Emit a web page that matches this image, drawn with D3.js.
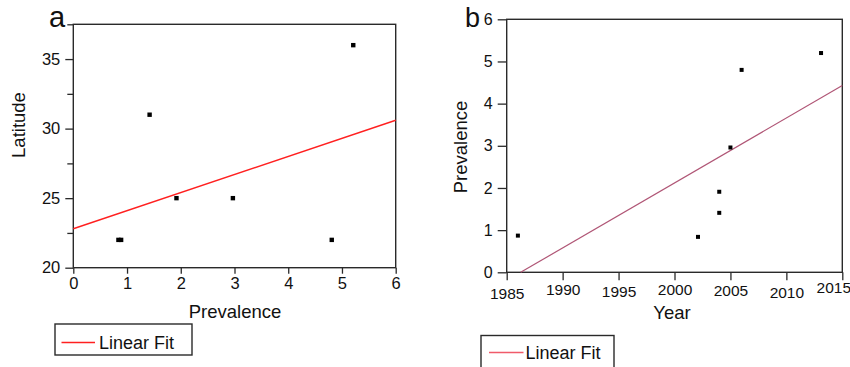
<!DOCTYPE html>
<html><head><meta charset="utf-8">
<script src="https://cdn.jsdelivr.net/npm/d3@7"></script>
<style>
html,body{margin:0;padding:0;background:#fff;}
svg{display:block;font-family:"Liberation Sans",Arial,Helvetica,sans-serif;}
</style></head>
<body>
<svg id="c" width="850" height="367"></svg>
<script>
// ---- Panel a data ----
const prevalenceA = [0.84, 0.89, 1.42, 1.92, 2.97, 4.81, 5.21];
const latitudeA   = [22, 22, 31, 25, 25, 22, 36];
const fitAX = [0, 6];
const fitAY = [22.8, 30.6];
const xTicksA = [0, 1, 2, 3, 4, 5, 6];
const yTicksA = [20, 25, 30, 35];
const yMinorA = [22.5, 27.5, 32.5, 37.5];

// ---- Panel b data ----
const yearB       = [1986.0, 2002.1, 2004.0, 2004.0, 2005.0, 2006.0, 2013.1];
const prevalenceB = [0.87, 0.84, 1.91, 1.41, 2.96, 4.80, 5.20];
const fitBX = [1986.25, 2015];
const fitBY = [0, 4.43];
const xTicksB = [1985, 1990, 1995, 2000, 2005, 2010, 2015];
const yTicksB = [0, 1, 2, 3, 4, 5, 6];

const svg = d3.select("#c");
const axisCol = "#2a2a2a";

function styleAxis(g, fs){
  g.selectAll("path.domain").remove();
  g.selectAll(".tick line").attr("stroke", axisCol).attr("stroke-width", 1.3);
  g.selectAll(".tick text").attr("fill", "#111").style("font-size", fs + "px")
   .style("font-family", '"Liberation Sans",Arial,sans-serif');
}

// ================= Panel a =================
const xA = d3.scaleLinear().domain([0, 6]).range([73.3, 395.7]);
const yA = d3.scaleLinear().domain([20, 37.5]).range([267.7, 24.3]);
const gA = svg.append("g");

gA.append("g").attr("transform", `translate(0,${yA(20)})`)
  .call(d3.axisBottom(xA).tickValues(xTicksA).tickFormat(d3.format("d")).tickSize(6).tickPadding(4))
  .call(g => styleAxis(g, 16.5));
gA.append("g").attr("transform", `translate(${xA(0)},0)`)
  .call(d3.axisLeft(yA).tickValues(yTicksA).tickFormat(d3.format("d")).tickSize(8).tickPadding(5))
  .call(g => styleAxis(g, 16.5));
gA.append("g").attr("transform", `translate(${xA(0)},0)`)
  .call(d3.axisLeft(yA).tickValues(yMinorA).tickFormat("").tickSize(6))
  .call(g => styleAxis(g, 16.5));

gA.append("rect").attr("x", xA(0)).attr("y", yA(37.5))
  .attr("width", xA(6) - xA(0)).attr("height", yA(20) - yA(37.5))
  .attr("fill", "none").attr("stroke", axisCol).attr("stroke-width", 1.4);

gA.append("line").attr("x1", xA(fitAX[0])).attr("y1", yA(fitAY[0]))
  .attr("x2", xA(fitAX[1])).attr("y2", yA(fitAY[1]))
  .attr("stroke", "#ff2020").attr("stroke-width", 1.4);

gA.selectAll("rect.pt").data(prevalenceA.map((d, i) => [d, latitudeA[i]])).join("rect")
  .attr("class", "pt").attr("x", d => xA(d[0]) - 2.2).attr("y", d => yA(d[1]) - 2.2)
  .attr("width", 4.4).attr("height", 4.4).attr("fill", "#000");

gA.append("text").attr("x", 49).attr("y", 27).style("font-size", "29px").attr("fill", "#111").text("a");
gA.append("text").attr("transform", "translate(25,125) rotate(-90)").attr("text-anchor", "middle")
  .style("font-size", "18.5px").attr("fill", "#111").text("Latitude");
gA.append("text").attr("x", 235).attr("y", 318).attr("text-anchor", "middle")
  .style("font-size", "18.5px").attr("fill", "#111").text("Prevalence");

// legend a
gA.append("rect").attr("x", 55).attr("y", 324).attr("width", 137).attr("height", 31)
  .attr("fill", "#fff").attr("stroke", axisCol).attr("stroke-width", 1.4);
gA.append("line").attr("x1", 61.5).attr("x2", 95).attr("y1", 342.5).attr("y2", 342.5)
  .attr("stroke", "#ff2020").attr("stroke-width", 1.4);
gA.append("text").attr("x", 99).attr("y", 348.5).style("font-size", "18px").attr("fill", "#111").text("Linear Fit");

// ================= Panel b =================
const xB = d3.scaleLinear().domain([1985, 2015]).range([506.7, 842.3]);
const yB = d3.scaleLinear().domain([0, 6]).range([272.3, 19.3]);
const gB = svg.append("g");

// staggered x tick labels (layout offsets only)
const xLabelShiftB = {1985: [0, 3], 1990: [0, -1], 1995: [0, 1], 2000: [0, -1], 2005: [0, 0], 2010: [0, 2], 2015: [-9, -3]};

gB.append("g").attr("transform", `translate(0,${yB(0)})`)
  .call(d3.axisBottom(xB).tickValues(xTicksB).tickFormat(d3.format("d")).tickSize(8).tickPadding(5))
  .call(g => styleAxis(g, 15.5))
  .call(g => g.selectAll(".tick text").attr("transform", d => `translate(${xLabelShiftB[d][0]},${xLabelShiftB[d][1]})`));
gB.append("g").attr("transform", `translate(${xB(1985)},0)`)
  .call(d3.axisLeft(yB).tickValues(yTicksB).tickFormat(d3.format("d")).tickSize(9).tickPadding(5))
  .call(g => styleAxis(g, 16));

gB.append("rect").attr("x", xB(1985)).attr("y", yB(6))
  .attr("width", xB(2015) - xB(1985)).attr("height", yB(0) - yB(6))
  .attr("fill", "none").attr("stroke", axisCol).attr("stroke-width", 1.4);

gB.append("line").attr("x1", xB(fitBX[0])).attr("y1", yB(fitBY[0]))
  .attr("x2", xB(fitBX[1])).attr("y2", yB(fitBY[1]))
  .attr("stroke", "#b05676").attr("stroke-width", 1.2);

gB.selectAll("rect.pt").data(yearB.map((d, i) => [d, prevalenceB[i]])).join("rect")
  .attr("class", "pt").attr("x", d => xB(d[0]) - 2).attr("y", d => yB(d[1]) - 2)
  .attr("width", 4).attr("height", 4).attr("fill", "#000");

gB.append("text").attr("x", 465).attr("y", 26.5).style("font-size", "27px").attr("fill", "#111").text("b");
gB.append("text").attr("transform", "translate(466.5,147) rotate(-90)").attr("text-anchor", "middle")
  .style("font-size", "18.5px").attr("fill", "#111").text("Prevalence");
gB.append("text").attr("x", 672).attr("y", 318.5).attr("text-anchor", "middle")
  .style("font-size", "18.5px").attr("fill", "#111").text("Year");

// legend b
gB.append("rect").attr("x", 481).attr("y", 335.5).attr("width", 133).attr("height", 40)
  .attr("fill", "#fff").attr("stroke", axisCol).attr("stroke-width", 1.4);
gB.append("line").attr("x1", 489).attr("x2", 523.5).attr("y1", 352.5).attr("y2", 352.5)
  .attr("stroke", "#f05a6a").attr("stroke-width", 1.4);
gB.append("text").attr("x", 525.5).attr("y", 358.5).style("font-size", "18px").attr("fill", "#111").text("Linear Fit");
</script>
</body></html>
